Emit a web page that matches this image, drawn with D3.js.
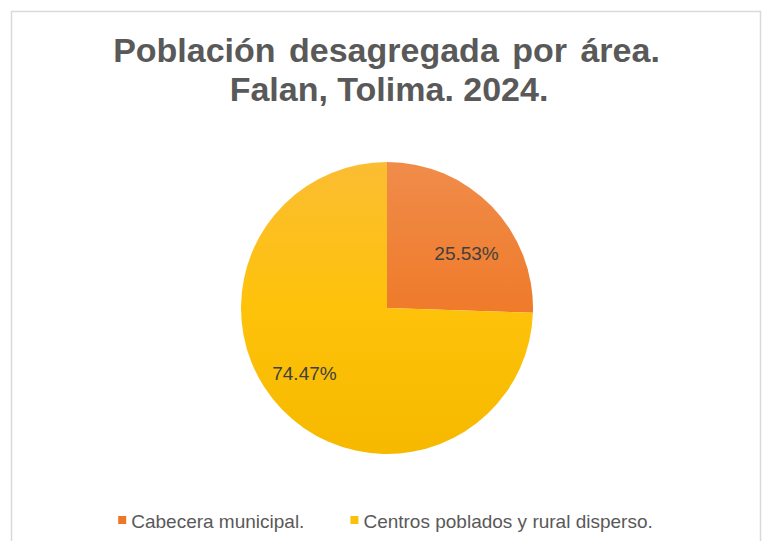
<!DOCTYPE html>
<html>
<head>
<meta charset="utf-8">
<script src="https://cdn.jsdelivr.net/npm/d3@7"></script>
<style>
  html, body { margin: 0; padding: 0; background: #ffffff; }
  svg { display: block; font-family: "Liberation Sans", Arial, sans-serif; }
</style>
</head>
<body>
<svg id="chart" width="768" height="541"></svg>
<script>
// ---- Data ----
const titleLines = ["Población desagregada por área.", "Falan, Tolima. 2024."];
const categories = ["Cabecera municipal.", "Centros poblados y rural disperso."];
const values = [25.53, 74.47];
const valueLabels = ["25.53%", "74.47%"];

// ---- Styles ----
const W = 768, H = 541;
const cx = 387, cy = 308, R = 146;
const sliceGrad = [
  ["#f08c4a", "#ef7b2b", "#e86b1a"],
  ["#fbbd32", "#fec20a", "#f6b900"]
];
const legendSwatch = ["#ee7627", "#fcc10c"];
const labelNudge = [[4, 18], [-7, -8]];

const svg = d3.select("#chart");

// border
svg.append("rect")
  .attr("x", 11.5).attr("y", 11.5)
  .attr("width", 749).attr("height", 540)
  .attr("fill", "#ffffff")
  .attr("stroke", "#d9d9d9").attr("stroke-width", 1.5);

// title
svg.append("g").selectAll("text")
  .data(titleLines)
  .join("text")
  .attr("x", (d, i) => i === 0 ? 386.5 : 389)
  .attr("y", (d, i) => 62 + i * 39)
  .attr("text-anchor", "middle")
  .attr("font-size", 34)
  .attr("font-weight", "bold")
  .attr("word-spacing", (d, i) => i === 0 ? 4 : 0)
  .attr("fill", "#595959")
  .text(d => d);

// gradients (coordinates relative to pie centre)
const defs = svg.append("defs");
sliceGrad.forEach((stops, i) => {
  const g = defs.append("linearGradient")
    .attr("id", "grad" + i)
    .attr("gradientUnits", "userSpaceOnUse")
    .attr("x1", 0).attr("y1", -R).attr("x2", 0).attr("y2", R);
  g.append("stop").attr("offset", "0%").attr("stop-color", stops[0]);
  g.append("stop").attr("offset", "50%").attr("stop-color", stops[1]);
  g.append("stop").attr("offset", "100%").attr("stop-color", stops[2]);
});

// pie
const pie = d3.pie().sort(null).value(d => d);
const arcs = pie(values);
const arc = d3.arc().innerRadius(0).outerRadius(R);
const labelArc = d3.arc().innerRadius(R * 0.72).outerRadius(R * 0.72);

const pg = svg.append("g").attr("transform", `translate(${cx},${cy})`);
pg.selectAll("path")
  .data(arcs)
  .join("path")
  .attr("d", arc)
  .attr("fill", (d, i) => `url(#grad${i})`);

pg.selectAll("text")
  .data(arcs)
  .join("text")
  .attr("x", (d, i) => labelArc.centroid(d)[0] + labelNudge[i][0])
  .attr("y", (d, i) => labelArc.centroid(d)[1] + labelNudge[i][1])
  .attr("dy", "0.35em")
  .attr("text-anchor", "middle")
  .attr("font-size", 19)
  .attr("fill", "#404040")
  .text((d, i) => valueLabels[i]);

// legend
const items = svg.append("g").selectAll("g")
  .data(categories)
  .join("g");
items.append("rect")
  .attr("width", 8).attr("height", 8)
  .attr("y", 516)
  .attr("fill", (d, i) => legendSwatch[i]);
items.append("text")
  .attr("y", 528)
  .attr("font-size", 19)
  .attr("fill", "#595959")
  .text(d => d);

const widths = [];
items.select("text").each(function () { widths.push(this.getComputedTextLength()); });
const sw = 8, gap = 5, itemGap = 46;
const total = widths.reduce((a, w) => a + sw + gap + w, 0) + itemGap * (widths.length - 1);
let x0 = 385.5 - total / 2;
items.each(function (d, i) {
  const g = d3.select(this);
  g.select("rect").attr("x", x0);
  g.select("text").attr("x", x0 + sw + gap);
  x0 += sw + gap + widths[i] + itemGap;
});
</script>
</body>
</html>
